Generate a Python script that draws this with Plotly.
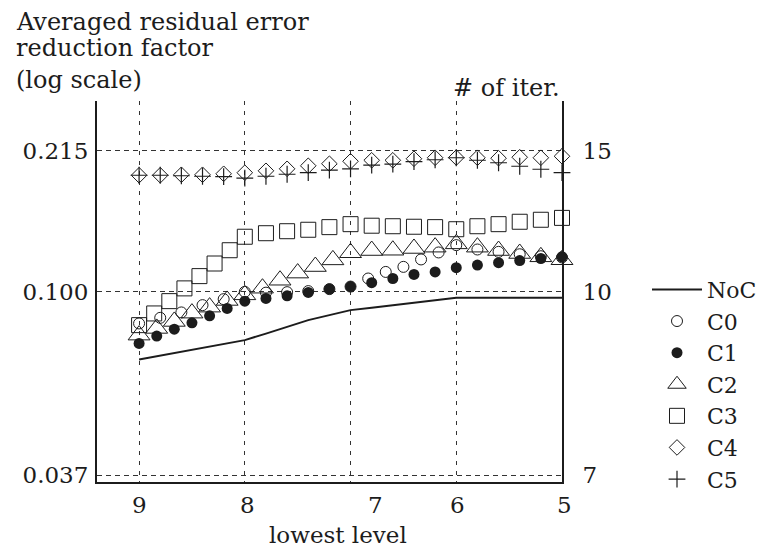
import plotly.graph_objects as go

# ---------------- data ----------------
x_noc = [9.0, 8.8, 8.6, 8.4, 8.2, 8.0, 7.8, 7.6, 7.4, 7.2, 7.0, 6.8, 6.6, 6.4, 6.2, 6.0, 5.8, 5.6, 5.4, 5.2, 5.0]
noc = [0.06935, 0.07079, 0.07234, 0.07373, 0.07534, 0.07699, 0.07975, 0.08260, 0.08579, 0.08815, 0.09057,
       0.09180, 0.09305, 0.09432, 0.09561, 0.09691, 0.09691, 0.09691, 0.09691, 0.09691, 0.09691]

x_c0 = [9.0, 8.8, 8.6, 8.4, 8.2, 8.0, 7.8, 7.6, 7.4, 7.2, 7.0, 6.833, 6.667, 6.5, 6.333, 6.167, 6.0,
        5.8, 5.6, 5.4, 5.2, 5.0]
c0 = [0.08427, 0.08687, 0.08945, 0.09305, 0.09612, 0.1000, 0.09957, 0.09984, 0.1004, 0.1015, 0.1029,
      0.1075, 0.1114, 0.1145, 0.1192, 0.1238, 0.1288, 0.1258, 0.1242, 0.1226, 0.1213, 0.1205]

x_c1 = [9.0, 8.833, 8.667, 8.5, 8.333, 8.167, 8.0, 7.8, 7.6, 7.4, 7.2, 7.0, 6.8, 6.6, 6.4, 6.2, 6.0,
        5.8, 5.6, 5.4, 5.2, 5.0]
c1 = [0.07563, 0.07868, 0.08171, 0.08455, 0.08781, 0.09140, 0.09509, 0.09649, 0.09786, 0.09968, 0.1015,
      0.1029, 0.1051, 0.1075, 0.1099, 0.1114, 0.1140, 0.1156, 0.1171, 0.1185, 0.1198, 0.1209]

x_c2 = [9.0, 8.833, 8.667, 8.5, 8.333, 8.167, 8.0, 7.833, 7.667, 7.5, 7.333, 7.167, 7.0, 6.8, 6.6, 6.4,
        6.2, 6.0, 5.8, 5.6, 5.4, 5.2, 5.0]
c2 = [0.07910, 0.08202, 0.08519, 0.08911, 0.09205, 0.09545, 0.09839, 0.1020, 0.1065, 0.1107, 0.1147,
      0.1189, 0.1236, 0.1251, 0.1253, 0.1265, 0.1274, 0.1297, 0.1274, 0.1251, 0.1231, 0.1209, 0.1190]

x_c3 = [9.0, 8.857, 8.714, 8.571, 8.429, 8.286, 8.143, 8.0, 7.8, 7.6, 7.4, 7.2, 7.0, 6.8, 6.6, 6.4,
        6.2, 6.0, 5.8, 5.6, 5.4, 5.2, 5.0]
c3 = [0.08350, 0.08896, 0.09509, 0.1019, 0.1089, 0.1166, 0.1253, 0.1348, 0.1374, 0.1389, 0.1400,
      0.1420, 0.1443, 0.1431, 0.1427, 0.1423, 0.1420, 0.1404, 0.1427, 0.1443, 0.1462, 0.1478, 0.1493]

x_c45 = [9.0, 8.8, 8.6, 8.4, 8.2, 8.0, 7.8, 7.6, 7.4, 7.2, 7.0, 6.8, 6.6, 6.4, 6.2, 6.0, 5.8, 5.6, 5.4, 5.2, 5.0]
c4 = [0.1881, 0.1881, 0.1886, 0.1886, 0.1896, 0.1907, 0.1927, 0.1948, 0.1980, 0.2002, 0.2029,
      0.2040, 0.2040, 0.2057, 0.2068, 0.2070, 0.2068, 0.2063, 0.2074, 0.2068, 0.2085]
c5 = [0.1881, 0.1881, 0.1876, 0.1871, 0.1866, 0.1851, 0.1871, 0.1891, 0.1907, 0.1933, 0.1948,
      0.1986, 0.1997, 0.2024, 0.2046, 0.2068, 0.2040, 0.2013, 0.1975, 0.1943, 0.1907]

x_ticks = [9, 8, 7, 6, 5]
x_tick_labels = ["9", "8", "7", "6", "5"]
y_ticks = [0.037, 0.100, 0.215]
y_left_labels = ["0.037", "0.100", "0.215"]
y_right_labels = ["7", "10", "15"]

# ---------------- styling ----------------
FONT = "DejaVu Serif"
INK = "#1c1c1c"
y_range = [-1.44745, -0.5509]
x_range = [9.398, 5.0]
x_label_paper = [0.0919, 0.3233, 0.5983, 0.7756, 1.0049]   # label placement (paper units)

fig = go.Figure()
fig.add_trace(go.Scatter(x=x_noc, y=noc, mode="lines", name="NoC",
                         line=dict(color=INK, width=2), cliponaxis=False))
fig.add_trace(go.Scatter(x=x_c0, y=c0, mode="markers", name="C0", cliponaxis=False,
                         marker=dict(symbol="circle-open", size=11, color=INK, line=dict(width=1, color=INK))))
fig.add_trace(go.Scatter(x=x_c1, y=c1, mode="markers", name="C1", cliponaxis=False,
                         marker=dict(symbol="circle", size=11, color=INK, line=dict(width=0))))
fig.add_trace(go.Scatter(x=x_c2, y=c2, mode="markers", name="C2", cliponaxis=False,
                         marker=dict(symbol="triangle-up-open", size=19, color=INK, line=dict(width=1, color=INK))))
fig.add_trace(go.Scatter(x=x_c3, y=c3, mode="markers", name="C3", cliponaxis=False,
                         marker=dict(symbol="square-open", size=15, color=INK, line=dict(width=1, color=INK))))
fig.add_trace(go.Scatter(x=x_c45, y=c4, mode="markers", name="C4", cliponaxis=False,
                         marker=dict(symbol="diamond-open", size=12, color=INK, line=dict(width=1, color=INK))))
fig.add_trace(go.Scatter(x=x_c45, y=c5, mode="markers", name="C5", cliponaxis=False,
                         marker=dict(symbol="cross-thin", size=12, color=INK, line=dict(width=1.2, color=INK))))
# invisible helper trace so the right-hand axis exists
fig.add_trace(go.Scatter(x=[x_ticks[0]], y=[y_ticks[1]], yaxis="y2", mode="markers",
                         marker=dict(opacity=0), showlegend=False, hoverinfo="skip"))

annotations = []
for pos, lab in zip(x_label_paper, x_tick_labels):
    annotations.append(dict(x=pos, y=-0.0604, xref="paper", yref="paper", text=lab, showarrow=False,
                            xanchor="center", yanchor="middle", font=dict(family=FONT, size=23, color=INK)))
annotations.append(dict(x=0.519, y=-0.139, xref="paper", yref="paper", text="lowest level", showarrow=False,
                        xanchor="center", yanchor="middle", font=dict(family=FONT, size=23, color=INK)))
for txt, yy in [("Averaged residual error", 1.208), ("reduction factor", 1.1391), ("(log scale)", 1.0551)]:
    annotations.append(dict(x=-0.1795, y=yy, xref="paper", yref="paper", text=txt, showarrow=False,
                            xanchor="left", yanchor="middle", font=dict(family=FONT, size=24, color=INK)))
annotations.append(dict(x=1.0, y=1.0341, xref="paper", yref="paper", text="# of iter.", showarrow=False,
                        xanchor="right", yanchor="middle", font=dict(family=FONT, size=24, color=INK)))

fig.update_layout(
    width=766, height=543,
    margin=dict(l=89, r=209, t=93, b=69, pad=0),
    paper_bgcolor="white", plot_bgcolor="white",
    font=dict(family=FONT, size=22, color=INK),
    showlegend=True,
    legend=dict(x=1.1828, y=0.560, xanchor="left", yanchor="top", itemwidth=50,
                font=dict(family=FONT, size=22, color=INK), bgcolor="rgba(0,0,0,0)",
                tracegroupgap=0, itemclick=False),
    xaxis=dict(range=x_range, tickvals=x_ticks, showticklabels=False, ticks="",
               showgrid=True, gridcolor="#333", gridwidth=1, griddash="4px,6px",
               showline=True, linecolor=INK, linewidth=2, zeroline=False),
    yaxis=dict(type="log", range=y_range, tickvals=y_ticks, ticktext=y_left_labels,
               ticks="outside", ticklen=2, tickcolor="rgba(0,0,0,0)",
               tickfont=dict(family=FONT, size=23, color=INK),
               showgrid=True, gridcolor="#333", gridwidth=1, griddash="5px,4px",
               showline=True, linecolor=INK, linewidth=2, zeroline=False),
    yaxis2=dict(type="log", range=y_range, tickvals=y_ticks, ticktext=y_right_labels,
                overlaying="y", side="right", ticks="outside", ticklen=14, tickcolor="rgba(0,0,0,0)",
                tickfont=dict(family=FONT, size=23, color=INK),
                showgrid=False, showline=True, linecolor=INK, linewidth=2, zeroline=False),
    annotations=annotations,
)

fig.write_html("out.html")
